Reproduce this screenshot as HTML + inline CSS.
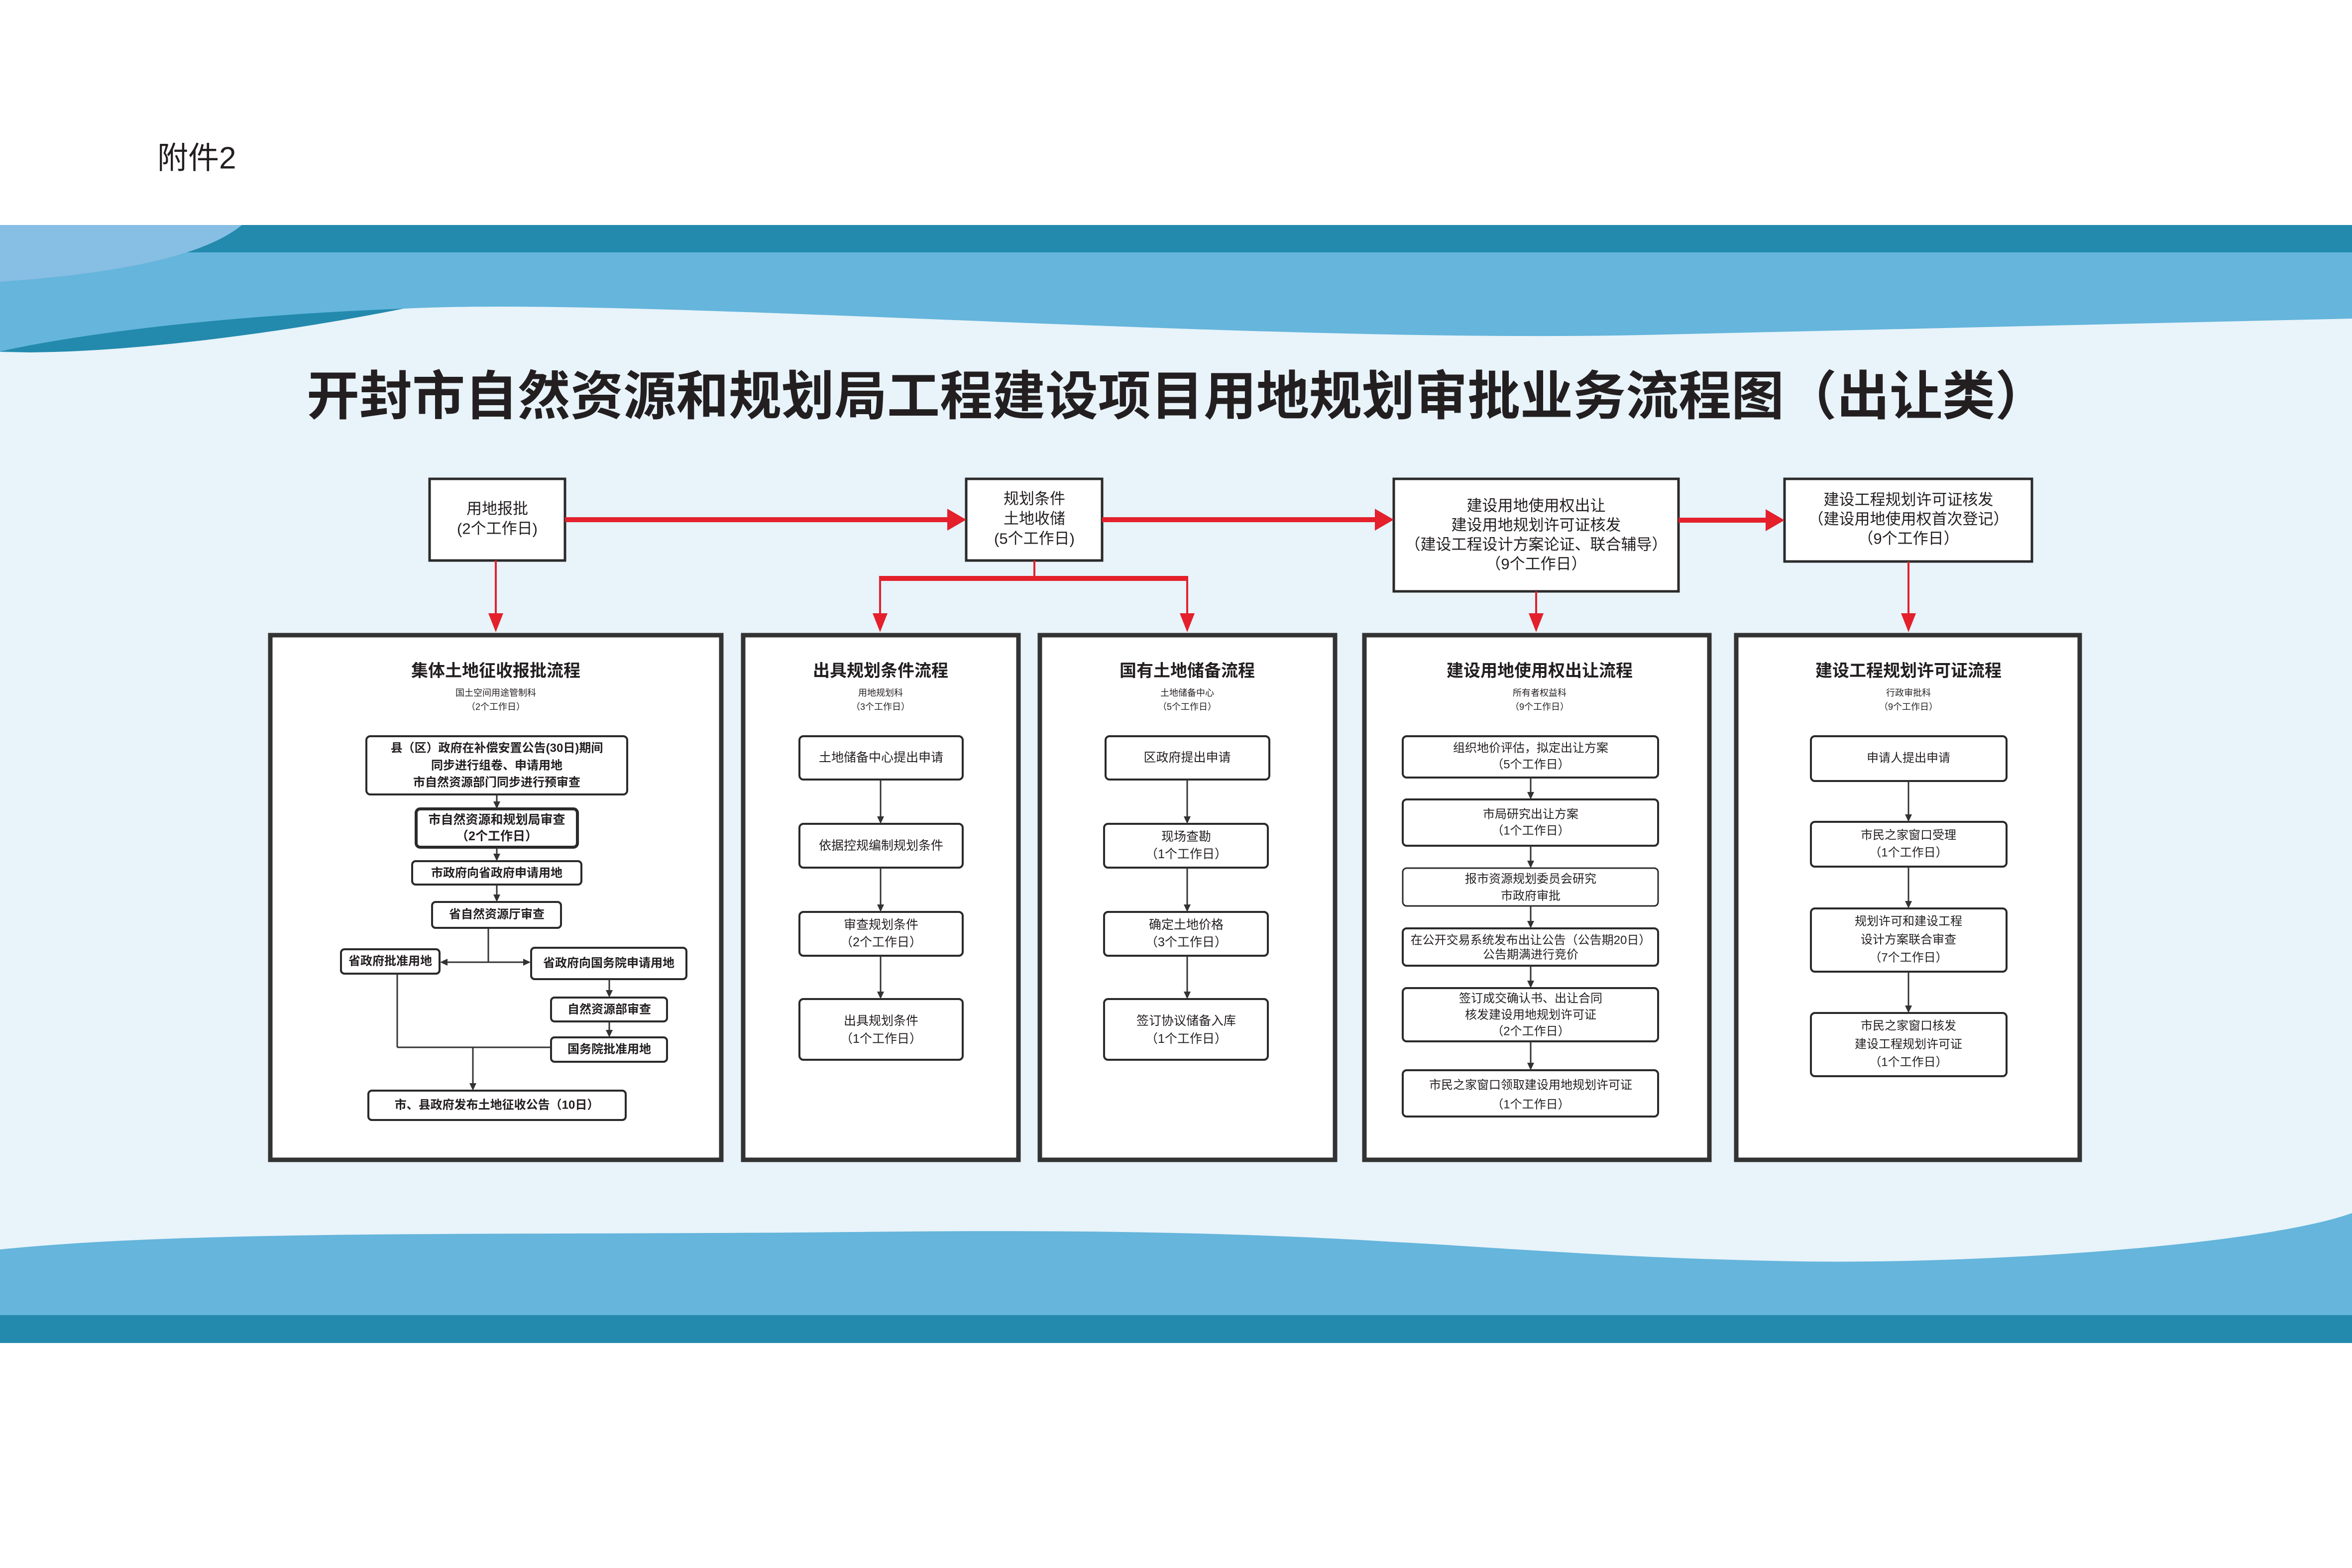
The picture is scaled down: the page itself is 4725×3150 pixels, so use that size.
<!DOCTYPE html>
<html><head><meta charset="utf-8"><style>
html,body{margin:0;padding:0;background:#fff;}
svg{display:block;}
text{font-family:"Liberation Sans","Noto Sans CJK SC",sans-serif;fill:#231f20;}
</style></head><body>
<svg width="4725" height="3150" viewBox="0 0 4725 3150" xmlns="http://www.w3.org/2000/svg">
<rect width="4725" height="3150" fill="#fff"/>
<rect x="0" y="452" width="4725" height="2190" fill="#65b5dc"/>
<rect x="0" y="452" width="4725" height="55" fill="#238aad"/>
<path d="M0,452 L486,452 Q380,540 0,566 Z" fill="#87bee3"/>
<path d="M0,706 C200,662 500,632 811,620 C600,662 300,706 60,708 Z" fill="#238aad"/>
<path d="M0,707 L60,708 C300,706 600,662 811,620 C1300,596 2500,690 3300,673 L4725,640 L4725,2437 C4550,2500 4000,2540 3614,2534 C3250,2528 3000,2505 2800,2495 C2400,2470 2000,2472 1717,2475 C1000,2482 400,2470 0,2510 Z" fill="#e8f3fa"/>
<rect x="0" y="2642" width="4725" height="56" fill="#238aad"/>

<text x="316" y="318" font-size="62" dominant-baseline="central">附件2</text>
<text x="2365" y="797" font-size="106" font-weight="bold" text-anchor="middle" dominant-baseline="central">开封市自然资源和规划局工程建设项目用地规划审批业务流程图（出让类）</text>

<!-- top boxes -->
<g fill="#fff" stroke="#2a2a2a" stroke-width="5">
<rect x="863" y="962" width="272" height="164"/>
<rect x="1941" y="962" width="273" height="164"/>
<rect x="2800" y="962" width="572" height="226"/>
<rect x="3585" y="962" width="497" height="166"/>
</g>
<g font-size="31" text-anchor="middle" dominant-baseline="central">
<text x="999" y="1022">用地报批</text><text x="999" y="1062">(2个工作日)</text>
<text x="2078" y="1002">规划条件</text><text x="2078" y="1042">土地收储</text><text x="2078" y="1082">(5个工作日)</text>
<text x="3086" y="1016">建设用地使用权出让</text><text x="3086" y="1055">建设用地规划许可证核发</text><text x="3086" y="1094">（建设工程设计方案论证、联合辅导）</text><text x="3086" y="1133">（9个工作日）</text>
<text x="3834" y="1004">建设工程规划许可证核发</text><text x="3834" y="1043">（建设用地使用权首次登记）</text><text x="3834" y="1082">（9个工作日）</text>
</g>

<!-- red connectors -->
<g fill="#e3202b">
<rect x="1135" y="1039" width="772" height="10"/><polygon points="1903,1022 1903,1066 1941,1044"/>
<rect x="2214" y="1039" width="552" height="10"/><polygon points="2762,1022 2762,1066 2800,1044"/>
<rect x="3372" y="1040" width="179" height="10"/><polygon points="3547,1023 3547,1067 3585,1045"/>
<rect x="994" y="1126" width="4" height="110"/><polygon points="981,1232 1011,1232 996,1270"/>
<rect x="2076" y="1126" width="4" height="36"/>
<rect x="1766" y="1157" width="621" height="10"/>
<rect x="1766" y="1160" width="4" height="76"/><polygon points="1753,1232 1783,1232 1768,1270"/>
<rect x="2383" y="1160" width="4" height="76"/><polygon points="2370,1232 2400,1232 2385,1270"/>
<rect x="3084" y="1188" width="4" height="48"/><polygon points="3071,1232 3101,1232 3086,1270"/>
<rect x="3832" y="1128" width="4" height="108"/><polygon points="3819,1232 3849,1232 3834,1270"/>
</g>

<!-- panels -->
<g fill="#fff" stroke="#333" stroke-width="9">
<rect x="543" y="1276" width="906" height="1054"/>
<rect x="1493" y="1276" width="553" height="1054"/>
<rect x="2089" y="1276" width="593" height="1054"/>
<rect x="2741" y="1276" width="693" height="1054"/>
<rect x="3488" y="1276" width="690" height="1054"/>
</g>

<g text-anchor="middle" dominant-baseline="central">
<text x="996" y="1348" font-size="34" font-weight="bold">集体土地征收报批流程</text>
<text x="996" y="1392" font-size="18">国土空间用途管制科</text>
<text x="996" y="1420" font-size="18">（2个工作日）</text>
<text x="1769" y="1348" font-size="34" font-weight="bold">出具规划条件流程</text>
<text x="1769" y="1392" font-size="18">用地规划科</text>
<text x="1769" y="1420" font-size="18">（3个工作日）</text>
<text x="2385" y="1348" font-size="34" font-weight="bold">国有土地储备流程</text>
<text x="2385" y="1392" font-size="18">土地储备中心</text>
<text x="2385" y="1420" font-size="18">（5个工作日）</text>
<text x="3093" y="1348" font-size="34" font-weight="bold">建设用地使用权出让流程</text>
<text x="3093" y="1392" font-size="18">所有者权益科</text>
<text x="3093" y="1420" font-size="18">（9个工作日）</text>
<text x="3834" y="1348" font-size="34" font-weight="bold">建设工程规划许可证流程</text>
<text x="3834" y="1392" font-size="18">行政审批科</text>
<text x="3834" y="1420" font-size="18">（9个工作日）</text>
</g>

<!-- inner boxes -->
<g fill="#fff" stroke="#2a2a2a" stroke-width="4">
<rect x="736" y="1479" width="524" height="117" rx="8"/>
<rect x="836" y="1625" width="324" height="77" rx="8" stroke-width="6"/>
<rect x="828" y="1730" width="340" height="47" rx="7"/>
<rect x="868" y="1812" width="259" height="52" rx="7"/>
<rect x="685" y="1907" width="198" height="49" rx="7"/>
<rect x="1067" y="1904" width="312" height="63" rx="7"/>
<rect x="1107" y="2004" width="233" height="48" rx="7"/>
<rect x="1107" y="2084" width="233" height="49" rx="7"/>
<rect x="740" y="2191" width="517" height="59" rx="7"/>

<rect x="1606" y="1479" width="328" height="87" rx="8"/>
<rect x="1606" y="1655" width="328" height="88" rx="8"/>
<rect x="1606" y="1832" width="328" height="88" rx="8"/>
<rect x="1606" y="2007" width="328" height="122" rx="8"/>

<rect x="2221" y="1479" width="329" height="87" rx="8"/>
<rect x="2218" y="1655" width="329" height="88" rx="8"/>
<rect x="2218" y="1832" width="329" height="88" rx="8"/>
<rect x="2218" y="2007" width="329" height="122" rx="8"/>

<rect x="2818" y="1479" width="513" height="83" rx="8"/>
<rect x="2818" y="1606" width="513" height="93" rx="8"/>
<rect x="2818" y="1744" width="513" height="76" rx="8" stroke-width="3"/>
<rect x="2818" y="1865" width="513" height="75" rx="8"/>
<rect x="2818" y="1985" width="513" height="107" rx="8"/>
<rect x="2818" y="2150" width="513" height="93" rx="8"/>

<rect x="3638" y="1479" width="393" height="90" rx="8"/>
<rect x="3638" y="1651" width="393" height="90" rx="8"/>
<rect x="3638" y="1825" width="393" height="127" rx="8"/>
<rect x="3638" y="2035" width="393" height="127" rx="8"/>
</g>

<!-- inner connectors -->
<g stroke="#333" stroke-width="3" fill="none">
<line x1="998" y1="1596" x2="998" y2="1612"/>
<line x1="998" y1="1702" x2="998" y2="1717"/>
<line x1="998" y1="1777" x2="998" y2="1799"/>
<line x1="981" y1="1864" x2="981" y2="1933"/>
<line x1="897" y1="1933" x2="1053" y2="1933"/>
<line x1="1224" y1="1967" x2="1224" y2="1991"/>
<line x1="1224" y1="2052" x2="1224" y2="2071"/>
<line x1="798" y1="1956" x2="798" y2="2104"/>
<line x1="798" y1="2104" x2="1107" y2="2104"/>
<line x1="950" y1="2104" x2="950" y2="2178"/>
<line x1="1769" y1="1566" x2="1769" y2="1642"/>
<line x1="1769" y1="1743" x2="1769" y2="1819"/>
<line x1="1769" y1="1920" x2="1769" y2="1994"/>
<line x1="2385" y1="1566" x2="2385" y2="1642"/>
<line x1="2385" y1="1743" x2="2385" y2="1819"/>
<line x1="2385" y1="1920" x2="2385" y2="1994"/>
<line x1="3075" y1="1562" x2="3075" y2="1593"/>
<line x1="3075" y1="1699" x2="3075" y2="1731"/>
<line x1="3075" y1="1820" x2="3075" y2="1852"/>
<line x1="3075" y1="1940" x2="3075" y2="1972"/>
<line x1="3075" y1="2092" x2="3075" y2="2137"/>
<line x1="3834" y1="1569" x2="3834" y2="1638"/>
<line x1="3834" y1="1741" x2="3834" y2="1812"/>
<line x1="3834" y1="1952" x2="3834" y2="2022"/>
</g>
<g fill="#333">
<polygon points="991,1610 1005,1610 998,1625"/>
<polygon points="991,1715 1005,1715 998,1730"/>
<polygon points="991,1797 1005,1797 998,1812"/>
<polygon points="899,1926 899,1940 884,1933"/>
<polygon points="1051,1926 1051,1940 1066,1933"/>
<polygon points="1217,1989 1231,1989 1224,2004"/>
<polygon points="1217,2069 1231,2069 1224,2084"/>
<polygon points="943,2176 957,2176 950,2191"/>
<polygon points="1762,1640 1776,1640 1769,1655"/>
<polygon points="1762,1817 1776,1817 1769,1832"/>
<polygon points="1762,1992 1776,1992 1769,2007"/>
<polygon points="2378,1640 2392,1640 2385,1655"/>
<polygon points="2378,1817 2392,1817 2385,1832"/>
<polygon points="2378,1992 2392,1992 2385,2007"/>
<polygon points="3068,1591 3082,1591 3075,1606"/>
<polygon points="3068,1729 3082,1729 3075,1744"/>
<polygon points="3068,1850 3082,1850 3075,1865"/>
<polygon points="3068,1970 3082,1970 3075,1985"/>
<polygon points="3068,2135 3082,2135 3075,2150"/>
<polygon points="3827,1636 3841,1636 3834,1651"/>
<polygon points="3827,1810 3841,1810 3834,1825"/>
<polygon points="3827,2020 3841,2020 3834,2035"/>
</g>

<!-- inner texts -->
<g text-anchor="middle" dominant-baseline="central" font-size="24" font-weight="bold">
<text x="998" y="1503">县（区）政府在补偿安置公告(30日)期间</text>
<text x="998" y="1538">同步进行组卷、申请用地</text>
<text x="998" y="1572">市自然资源部门同步进行预审查</text>
<text x="998" y="1647" font-size="25">市自然资源和规划局审查</text>
<text x="998" y="1680" font-size="25">（2个工作日）</text>
<text x="998" y="1754">市政府向省政府申请用地</text>
<text x="998" y="1837">省自然资源厅审查</text>
<text x="784" y="1931">省政府批准用地</text>
<text x="1223" y="1935">省政府向国务院申请用地</text>
<text x="1224" y="2028">自然资源部审查</text>
<text x="1224" y="2108">国务院批准用地</text>
<text x="998" y="2220">市、县政府发布土地征收公告（10日）</text>
</g>
<g text-anchor="middle" dominant-baseline="central" font-size="25">
<text x="1770" y="1522">土地储备中心提出申请</text>
<text x="1770" y="1699">依据控规编制规划条件</text>
<text x="1770" y="1858">审查规划条件</text><text x="1770" y="1893">（2个工作日）</text>
<text x="1770" y="2051">出具规划条件</text><text x="1770" y="2087">（1个工作日）</text>

<text x="2385" y="1522">区政府提出申请</text>
<text x="2383" y="1681">现场查勘</text><text x="2383" y="1716">（1个工作日）</text>
<text x="2383" y="1858">确定土地价格</text><text x="2383" y="1893">（3个工作日）</text>
<text x="2383" y="2051">签订协议储备入库</text><text x="2383" y="2087">（1个工作日）</text>
</g>
<g text-anchor="middle" dominant-baseline="central" font-size="24">
<text x="3075" y="1503">组织地价评估，拟定出让方案</text><text x="3075" y="1536">（5个工作日）</text>
<text x="3075" y="1636">市局研究出让方案</text><text x="3075" y="1669">（1个工作日）</text>
<text x="3075" y="1766">报市资源规划委员会研究</text><text x="3075" y="1800">市政府审批</text>
<text x="3075" y="1889">在公开交易系统发布出让公告（公告期20日）</text><text x="3075" y="1918">公告期满进行竞价</text>
<text x="3075" y="2006">签订成交确认书、出让合同</text><text x="3075" y="2039">核发建设用地规划许可证</text><text x="3075" y="2072">（2个工作日）</text>
<text x="3075" y="2180">市民之家窗口领取建设用地规划许可证</text><text x="3075" y="2219">（1个工作日）</text>

<text x="3834" y="1523">申请人提出申请</text>
<text x="3834" y="1678">市民之家窗口受理</text><text x="3834" y="1713">（1个工作日）</text>
<text x="3834" y="1851">规划许可和建设工程</text><text x="3834" y="1888">设计方案联合审查</text><text x="3834" y="1924">（7个工作日）</text>
<text x="3834" y="2061">市民之家窗口核发</text><text x="3834" y="2098">建设工程规划许可证</text><text x="3834" y="2134">（1个工作日）</text>
</g>
</svg>
</body></html>
